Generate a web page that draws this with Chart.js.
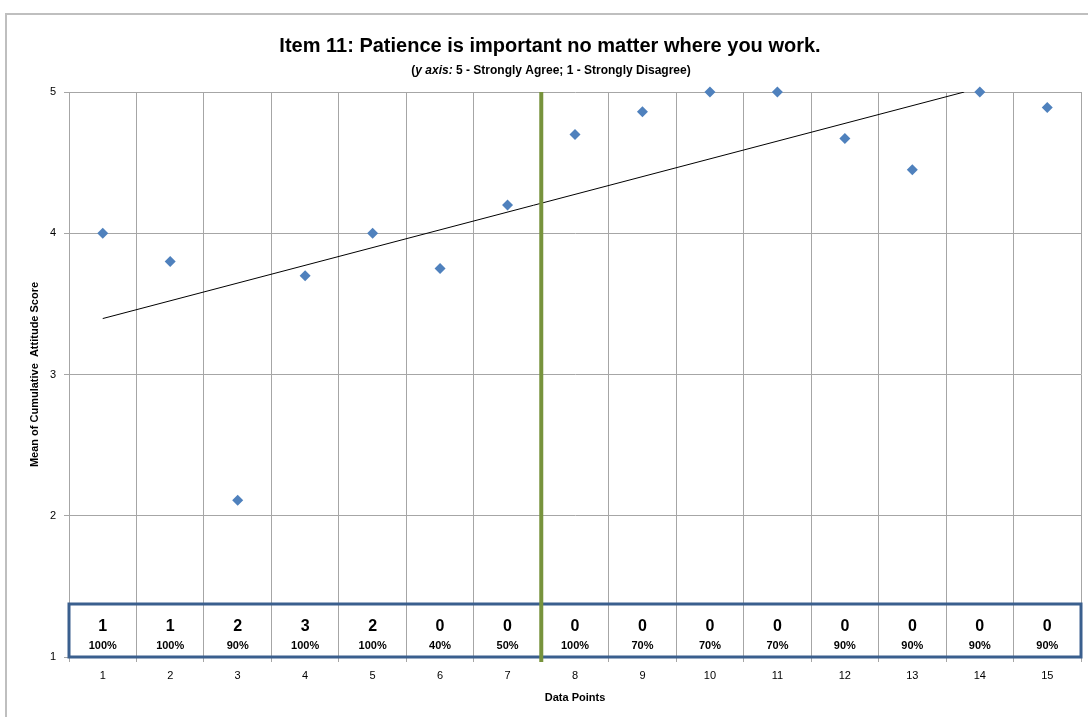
<!DOCTYPE html>
<html>
<head>
<meta charset="utf-8">
<script src="https://cdn.jsdelivr.net/npm/chart.js@4"></script>
<style>
  body { margin: 0; background: #fff; }
  canvas { display: block; }
</style>
</head>
<body>
<canvas id="chart" width="1088" height="717"></canvas>
<script>
// data points 1..15 and mean attitude score at each
const dataPoints = [1, 2, 3, 4, 5, 6, 7, 8, 9, 10, 11, 12, 13, 14, 15];
const meanScores = [4.0, 3.8, 2.11, 3.7, 4.0, 3.75, 4.2, 4.7, 4.86, 5.0, 5.0, 4.67, 4.45, 5.0, 4.89];
// numbers shown in the box along the bottom
const boxCounts = ["1", "1", "2", "3", "2", "0", "0", "0", "0", "0", "0", "0", "0", "0", "0"];
const boxPercents = ["100%", "100%", "90%", "100%", "100%", "40%", "50%", "100%", "70%", "70%", "70%", "90%", "90%", "90%", "90%"];
const phaseLine = 7.5;
const yTicks = [1, 2, 3, 4, 5];

const FONT = '"Liberation Sans", Arial, sans-serif';

// linear trendline (least squares), cut off where it reaches the top of the axis
const n = dataPoints.length;
const mx = dataPoints.reduce((a, b) => a + b, 0) / n;
const my = meanScores.reduce((a, b) => a + b, 0) / n;
let sxy = 0, sxx = 0;
dataPoints.forEach((x, i) => { sxy += (x - mx) * (meanScores[i] - my); sxx += (x - mx) * (x - mx); });
const slope = sxy / sxx;
const icpt = my - slope * mx;
const yMax = yTicks[yTicks.length - 1];
const xEnd = Math.min(dataPoints[n - 1], (yMax - icpt) / slope);
const trend = [
  { x: dataPoints[0], y: icpt + slope * dataPoints[0] },
  { x: xEnd, y: icpt + slope * xEnd }
];

// x positions for ticks: every half step, grid on the halves, labels on integers
const xTickPos = [];
for (let v = 0.5; v <= 15.5; v += 0.5) xTickPos.push(v);

const extras = {
  id: "extras",
  beforeDraw(chart) {
    const c = chart.ctx;
    c.save();
    c.strokeStyle = "#bfbfbf";
    c.lineWidth = 2;
    c.beginPath();
    c.moveTo(6, 717);
    c.lineTo(6, 14);
    c.lineTo(1088, 14);
    c.stroke();

    // title
    c.fillStyle = "#000";
    c.textAlign = "center";
    c.textBaseline = "middle";
    c.font = "bold 20px " + FONT;
    c.fillText("Item 11: Patience is important no matter where you work.", 550, 46);

    // subtitle with italic part
    const parts = [
      ["bold 12px " + FONT, "("],
      ["italic bold 12px " + FONT, "y axis:"],
      ["bold 12px " + FONT, " 5 - Strongly Agree; 1 - Strongly Disagree)"]
    ];
    let total = 0;
    parts.forEach(p => { c.font = p[0]; total += c.measureText(p[1]).width; });
    let x = 551 - total / 2;
    c.textAlign = "left";
    parts.forEach(p => { c.font = p[0]; c.fillText(p[1], x, 71); x += c.measureText(p[1]).width; });
    c.restore();
  },
  afterDatasetsDraw(chart) {
    const c = chart.ctx;
    const xs = chart.scales.x;
    const a = chart.chartArea;
    c.save();
    // box along the bottom
    c.strokeStyle = "#3a5f8e";
    c.lineWidth = 3;
    c.strokeRect(a.left, a.bottom - 53, a.right - a.left, 53);

    c.fillStyle = "#000";
    c.textAlign = "center";
    c.textBaseline = "middle";
    dataPoints.forEach((d, i) => {
      const px = xs.getPixelForValue(d);
      c.font = "bold 16px " + FONT;
      c.fillText(boxCounts[i], px, a.bottom - 30);
      c.font = "bold 11px " + FONT;
      c.fillText(boxPercents[i], px, a.bottom - 11);
    });

    // phase change line
    const lx = xs.getPixelForValue(phaseLine);
    c.strokeStyle = "#77933c";
    c.lineWidth = 4;
    c.beginPath();
    c.moveTo(lx, a.top);
    c.lineTo(lx, a.bottom + 5);
    c.stroke();
    c.restore();
  }
};

new Chart(document.getElementById("chart"), {
  type: "scatter",
  data: {
    datasets: [
      {
        label: "Mean",
        data: dataPoints.map((x, i) => ({ x: x, y: meanScores[i] })),
        pointStyle: "rectRot",
        pointRadius: 5.5,
        pointHoverRadius: 5.5,
        backgroundColor: "#4f81bd",
        borderColor: "#4f81bd",
        borderWidth: 0,
        clip: false,
        order: 1
      },
      {
        label: "Trend",
        type: "line",
        data: trend,
        borderColor: "#000",
        borderWidth: 1,
        pointRadius: 0,
        fill: false,
        order: 2
      }
    ]
  },
  options: {
    responsive: false,
    animation: false,
    events: [],
    layout: { padding: { left: 28, right: 4, top: 92, bottom: 12 } },
    plugins: {
      legend: { display: false },
      tooltip: { enabled: false }
    },
    scales: {
      x: {
        type: "linear",
        min: 0.5,
        max: 15.5,
        afterBuildTicks: s => { s.ticks = xTickPos.map(v => ({ value: v })); },
        afterFit: s => { s.height = 48; },
        ticks: {
          autoSkip: false,
          maxRotation: 0,
          padding: 7,
          color: "#000",
          font: { family: FONT, size: 11 },
          callback: v => Number.isInteger(v) ? String(v) : ""
        },
        grid: {
          color: ctx => (ctx.tick && Number.isInteger(ctx.tick.value)) ? "rgba(0,0,0,0)" : "#a6a6a6",
          tickColor: ctx => (ctx.tick && Number.isInteger(ctx.tick.value)) ? "rgba(0,0,0,0)" : "#a6a6a6",
          tickLength: 5
        },
        border: { color: "#a6a6a6" },
        title: {
          display: true,
          text: "Data Points",
          color: "#000",
          font: { family: FONT, size: 11, weight: "bold" },
          padding: { top: 4, bottom: 0 }
        }
      },
      y: {
        min: 1,
        max: 5,
        afterBuildTicks: s => { s.ticks = yTicks.map(v => ({ value: v })); },
        afterFit: s => { s.width = 41; },
        ticks: {
          padding: 8,
          color: "#000",
          font: { family: FONT, size: 11 }
        },
        grid: { color: "#a6a6a6", tickLength: 5 },
        border: { color: "#a6a6a6" },
        title: {
          display: true,
          text: "Mean of Cumulative  Attitude Score",
          color: "#000",
          font: { family: FONT, size: 11, weight: "bold" },
          padding: 0
        }
      }
    }
  },
  plugins: [extras]
});
</script>
</body>
</html>
